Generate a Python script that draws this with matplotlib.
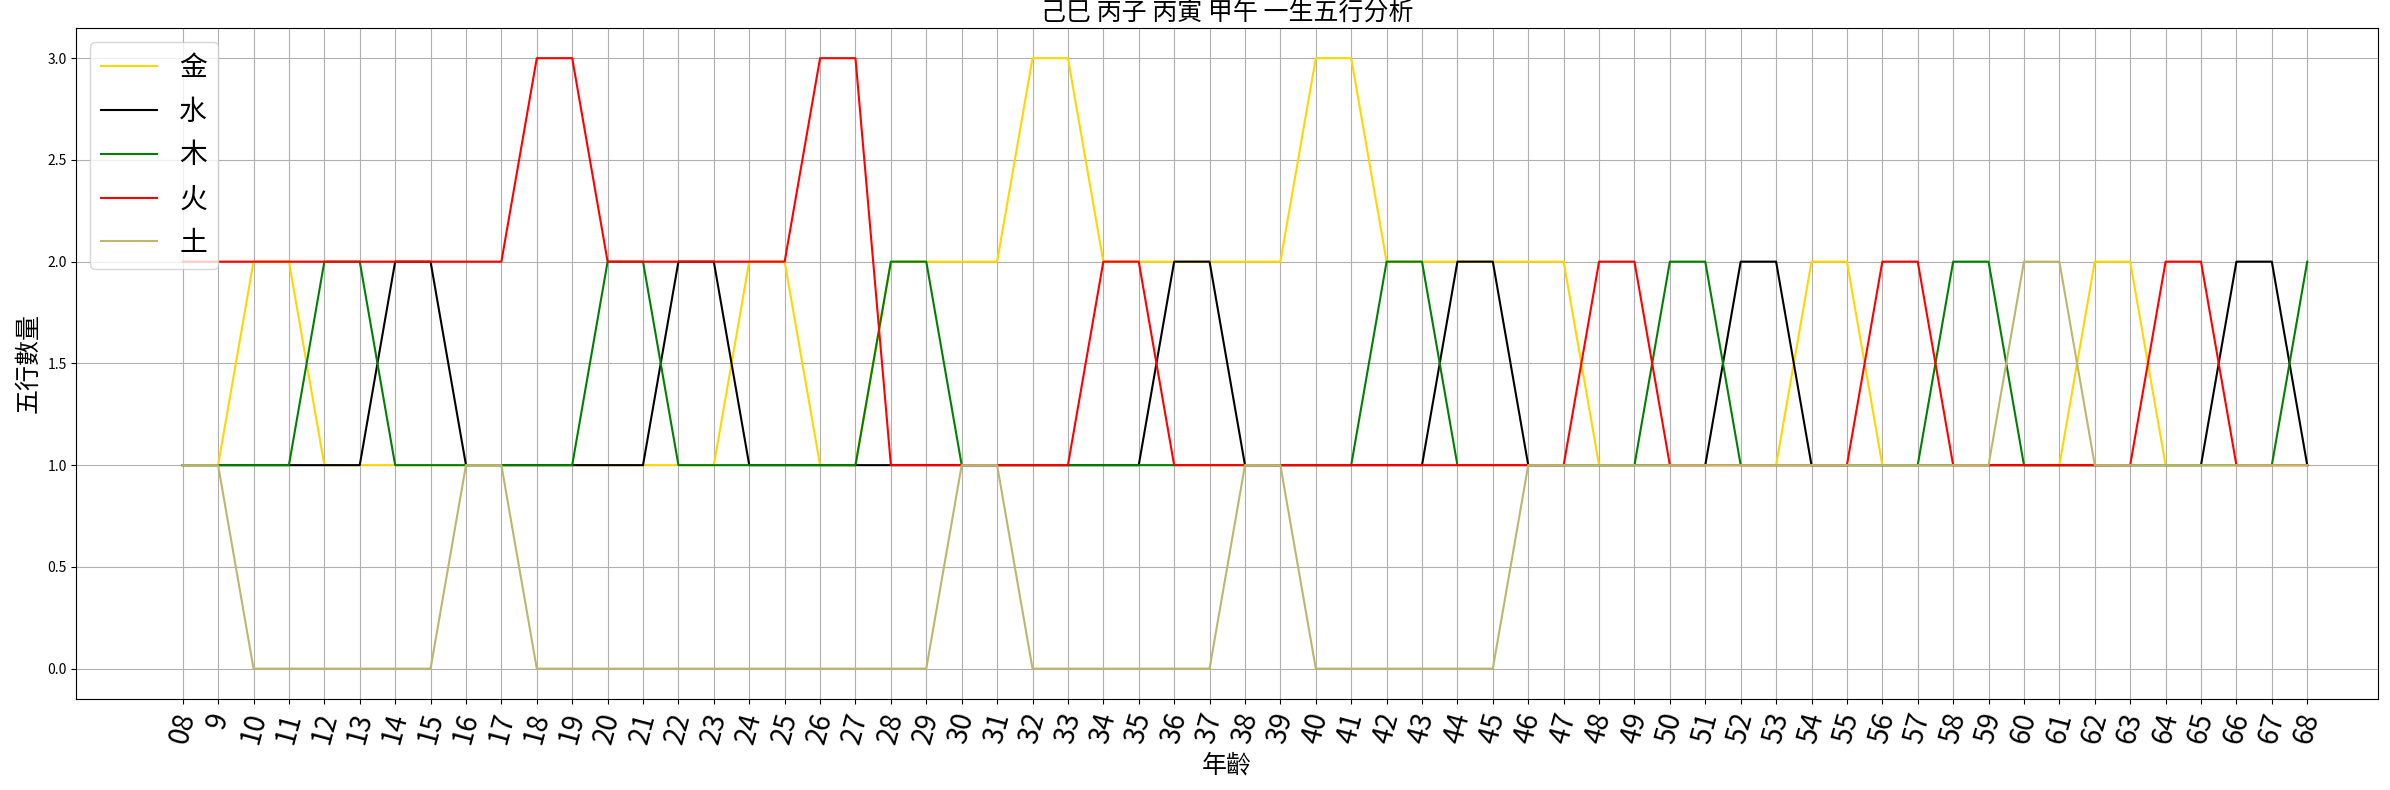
import matplotlib
matplotlib.use("Agg")
import matplotlib.pyplot as plt

plt.rcParams['font.family'] = ['Noto Sans CJK SC', 'DejaVu Sans']

ages = ["08"] + [str(a) for a in range(9, 69)]
gold  = [1,1,2,2,1,1,1,1,1,1, 1,1,1,1,1,1,2,2,1,1, 2,2,2,2,3,3,2,2,2,2, 2,2,3,3,2,2,2,2,2,2, 1,1,1,1,1,1,2,2,1,1, 1,1,1,1,2,2,1,1,1,1, 1]
water = [1,1,1,1,1,1,2,2,1,1, 1,1,1,1,2,2,1,1,1,1, 1,1,1,1,1,1,1,1,2,2, 1,1,1,1,1,1,2,2,1,1, 1,1,1,1,2,2,1,1,1,1, 1,1,1,1,1,1,1,1,2,2, 1]
wood  = [1,1,1,1,2,2,1,1,1,1, 1,1,2,2,1,1,1,1,1,1, 2,2,1,1,1,1,1,1,1,1, 1,1,1,1,2,2,1,1,1,1, 1,1,2,2,1,1,1,1,1,1, 2,2,1,1,1,1,1,1,1,1, 2]
fire  = [2,2,2,2,2,2,2,2,2,2, 3,3,2,2,2,2,2,2,3,3, 1,1,1,1,1,1,2,2,1,1, 1,1,1,1,1,1,1,1,1,1, 2,2,1,1,1,1,1,1,2,2, 1,1,1,1,1,1,2,2,1,1, 1]
earth = [1,1,0,0,0,0,0,0,1,1, 0,0,0,0,0,0,0,0,0,0, 0,0,1,1,0,0,0,0,0,0, 1,1,0,0,0,0,0,0,1,1, 1,1,1,1,1,1,1,1,1,1, 1,1,2,2,1,1,1,1,1,1, 1]
names = ["金", "水", "木", "火", "土"]
colors = ["gold", "black", "green", "red", "darkkhaki"]

fig, ax = plt.subplots(figsize=(23.9, 7.9), dpi=100)
x = list(range(len(ages)))
for vals, n, c in zip([gold, water, wood, fire, earth], names, colors):
    ax.plot(x, vals, color=c, label=n, linewidth=1.5)
ax.set_xticks(x)
ax.set_xticklabels(ages, rotation=75, fontsize=20)
ax.set_xlabel("年齡", fontsize=18)
ax.set_ylabel("五行數量", fontsize=18)
ax.set_title("己巳 丙子 丙寅 甲午 一生五行分析", fontsize=18)
ax.grid(True)
ax.set_xlim(-3, 62)
ax.legend(loc="upper left", fontsize=20)
fig.subplots_adjust(left=0.032, right=0.995, top=0.965, bottom=0.115)
fig.savefig("out.png")
